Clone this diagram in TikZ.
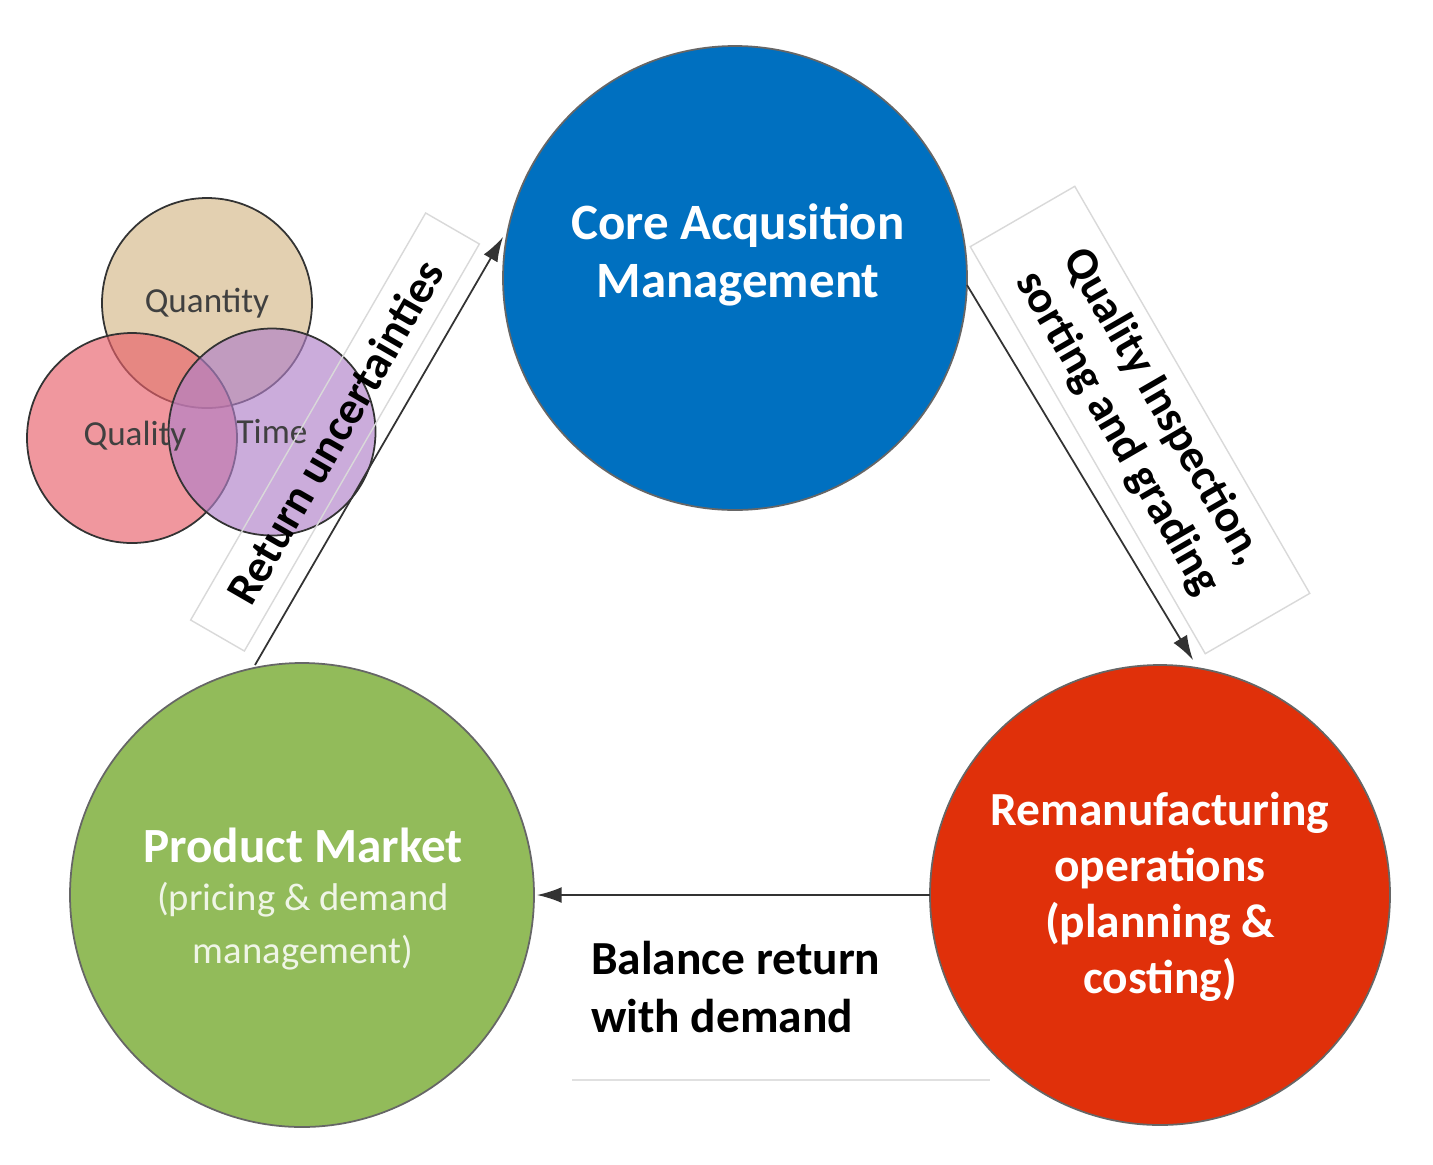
\documentclass[tikz,border=0pt]{standalone}
\usepackage{fontspec}
\setmainfont{Carlito}
\usetikzlibrary{arrows.meta}
\definecolor{cblue}{HTML}{0070C0}
\definecolor{cred}{HTML}{E0300A}
\definecolor{cgreen}{HTML}{92BB5A}
\definecolor{ctan}{HTML}{D4B888}
\definecolor{cpink}{HTML}{E8606A}
\definecolor{cpurple}{HTML}{B080C8}
\tikzset{
 venn/.style={circle,draw=black!80,line width=1pt,fill opacity=0.65,text opacity=1,inner sep=0pt},
 vlab/.style={font=\fontsize{20}{22}\selectfont,text=black!75},
 arr/.style={-{Latex[length=14pt,width=9pt]},line width=1pt,black!80},
 lab/.style={font=\bfseries\fontsize{26}{30}\selectfont,align=center,draw=black!15,line width=0.8pt,inner sep=8pt},
 wtxt/.style={text=white,align=center,font=\bfseries\fontsize{29}{33}\selectfont}
}
\begin{document}
\begin{tikzpicture}[x=0.02cm,y=-0.02cm]
\path[use as bounding box,fill=white] (0,0) rectangle (1433,1164);
% big circles
\fill[cblue,draw=black!60,line width=1pt] (735,278) circle (232);
\fill[cred,draw=black!60,line width=1pt] (1160,895) circle (230);
\fill[cgreen,draw=black!60,line width=1pt] (302,895) circle (232);
\node[wtxt] (core) at (738,255) {Core Acqusition\\Management};
\node[wtxt,font=\bfseries\fontsize{27}{32}\selectfont] (reman) at (1160,897) {Remanufacturing\\operations\\(planning \&\\costing)};
\node[wtxt,font=\bfseries\fontsize{28}{32}\selectfont] (pm) at (303,845) {Product Market};
\node[text=white!85!cgreen,align=center,font=\fontsize{22}{30}\selectfont] (pmsub) at (303,926) {(pricing \& demand\\management)};
% venn
\node[venn,fill=ctan,minimum size=210*0.02cm] (qn) at (207,303) {};
\node[venn,fill=cpink,minimum size=210*0.02cm] (ql) at (132,438) {};
\node[venn,fill=cpurple,minimum size=207*0.02cm] (tm) at (272,432) {};
\node[vlab] at (207,303) {Quantity};
\node[vlab] at (135,436) {Quality};
\node[vlab] at (272,432) {Time};
% connectors
\coordinate (a1) at (255,665); \coordinate (a2) at (503,237);
\coordinate (b1) at (967,285); \coordinate (b2) at (1193,660);
\coordinate (c1) at (930,895); \coordinate (c2) at (537,895);
\draw[arr] (a1) -- (a2);
\draw[arr] (b1) -- (b2);
\draw[arr] (c1) -- (c2);
% labels
\node[lab,rotate=60,minimum width=470*0.02cm,minimum height=62*0.02cm] (l1) at (335,432) {Return uncertainties};
\node[lab,rotate=-60,minimum width=470*0.02cm] (l2) at (1140,420) {Quality Inspection,\\sorting and grading};
\node[font=\bfseries\fontsize{27}{33}\selectfont,align=left,anchor=north west] (l3) at (585,935) {Balance return\\with demand};
\draw[black!12,line width=1pt] (572,1080) -- (990,1080);
\end{tikzpicture}
\end{document}
